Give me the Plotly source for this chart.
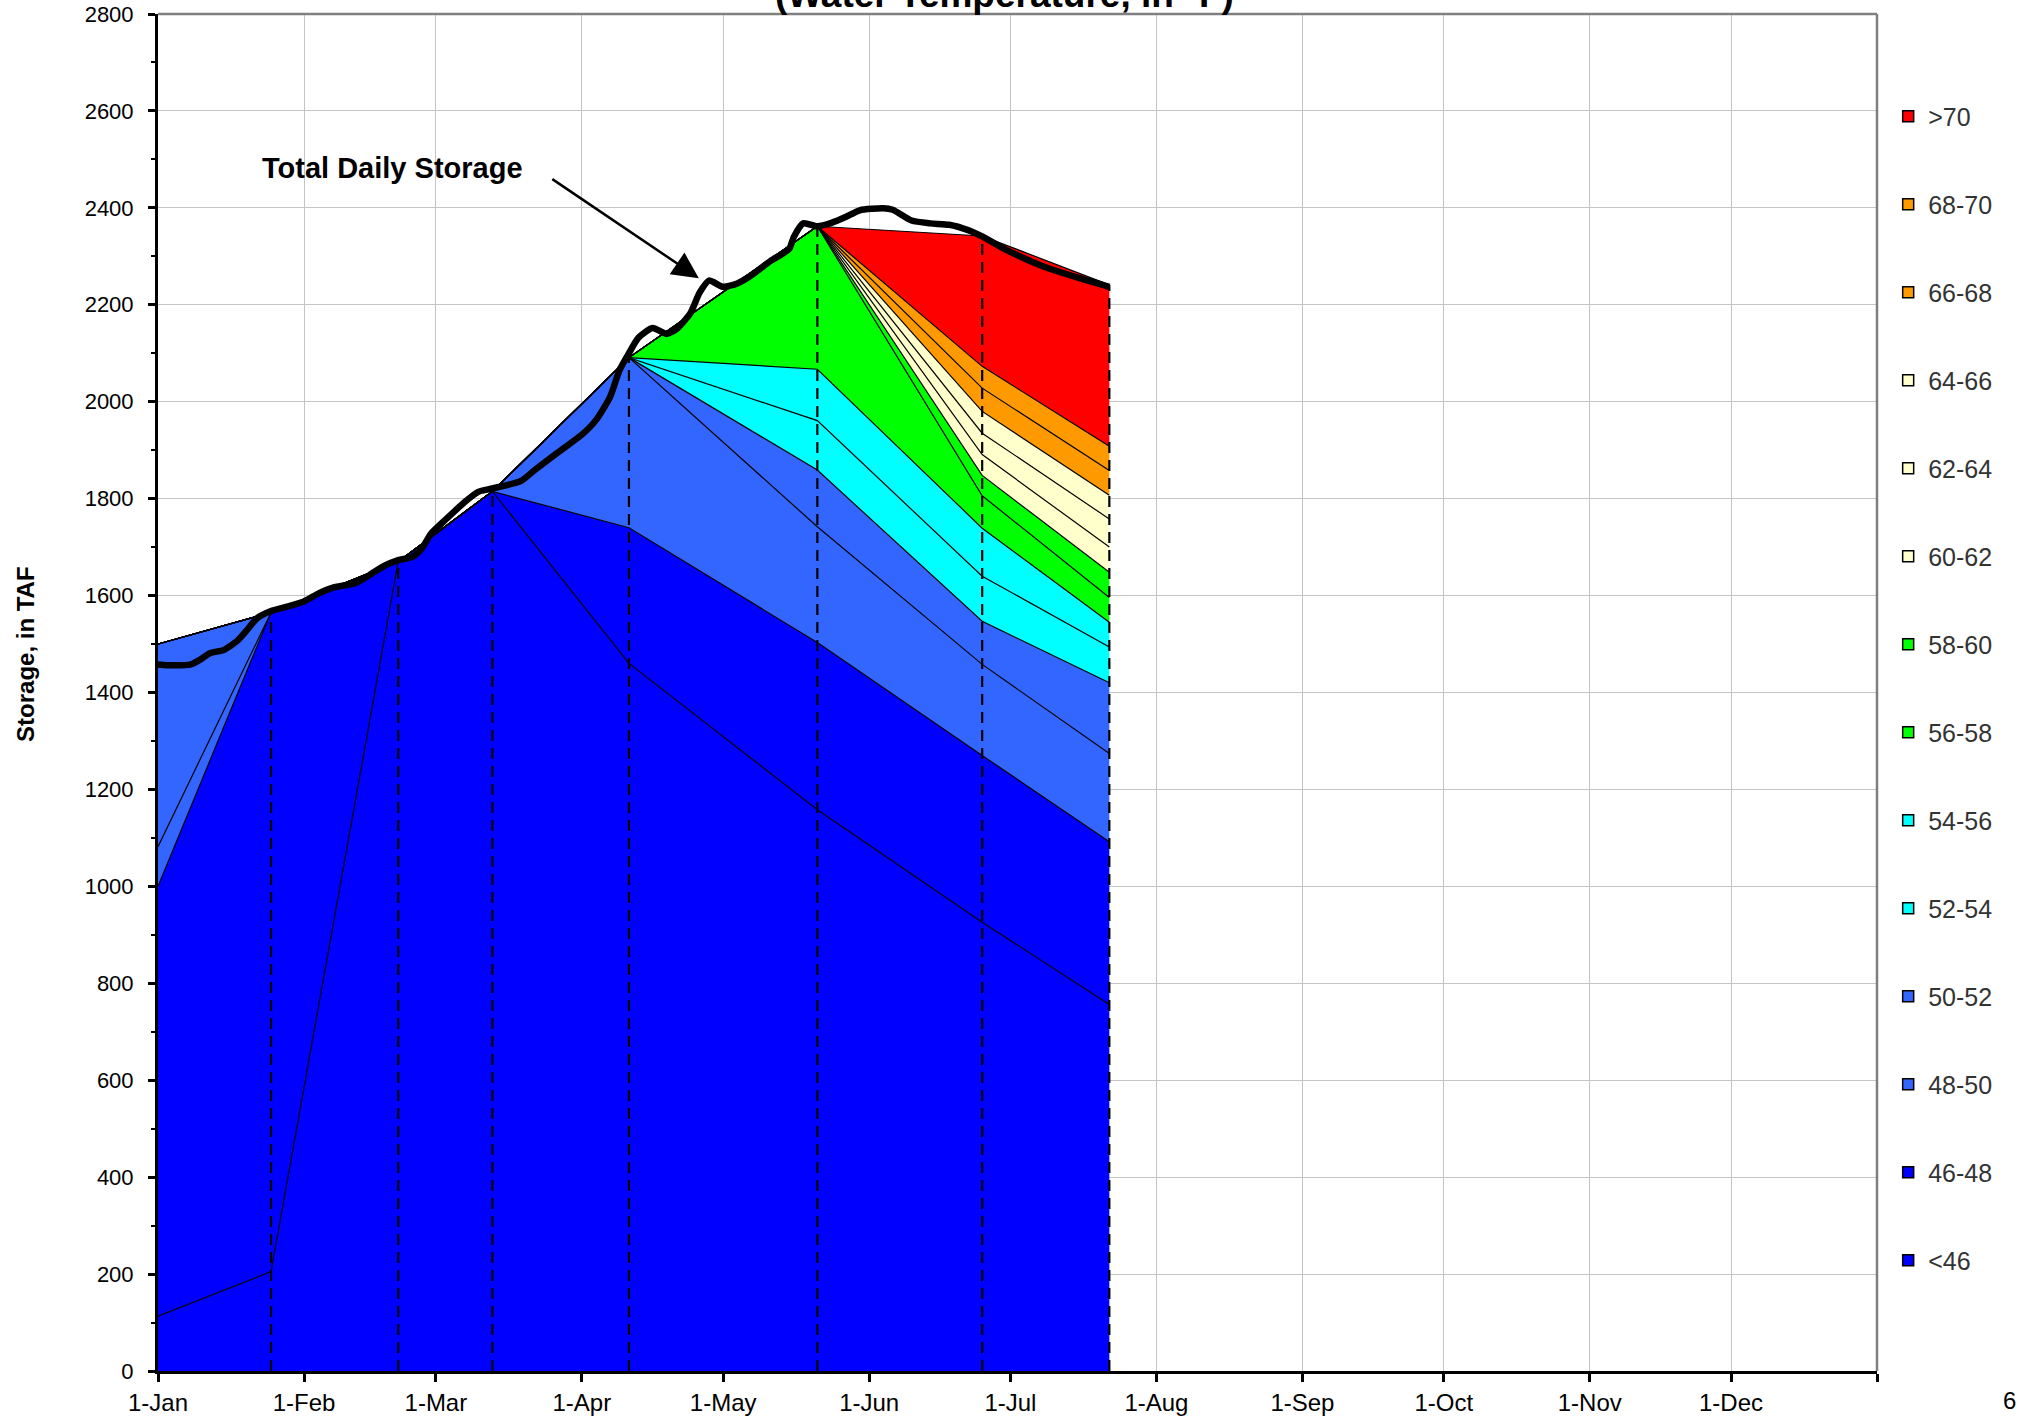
import numpy as np
import plotly.graph_objects as go

# ---------------- data ----------------
PROFILE_DATES = ["2009-01-01", "2009-01-25", "2009-02-21", "2009-03-13",
                 "2009-04-11", "2009-05-21", "2009-06-25", "2009-07-22"]

TEMP_CLASSES = ["<46", "46-48", "48-50", "50-52", "52-54", "54-56", "56-58",
                "58-60", "60-62", "62-64", "64-66", "66-68", "68-70", ">70"]
CLASS_COLORS = ["#0000FF", "#0000FF", "#3366FF", "#3366FF", "#00FFFF", "#00FFFF",
                "#00FF00", "#00FF00", "#FFFFCC", "#FFFFCC", "#FFFFCC", "#FF9900",
                "#FF9900", "#FF0000"]

# storage (TAF) within each temperature class at each profile date
S_LT46  = [113, 205, 1670, 1815, 1460, 1158, 926, 756]
S_46_48 = [887, 1360, 0, 0, 280, 345, 344, 336]
S_48_50 = [82, 0, 0, 0, 351, 239, 188, 182]
S_50_52 = [418, 0, 0, 0, 0, 117, 89, 146]
S_52_54 = [0, 0, 0, 0, 0, 102, 93, 74]
S_54_56 = [0, 0, 0, 0, 0, 106, 99, 51]
S_56_58 = [0, 0, 0, 0, 0, 295, 67, 51]
S_58_60 = [0, 0, 0, 0, 0, 0, 42, 52]
S_60_62 = [0, 0, 0, 0, 0, 0, 43, 52]
S_62_64 = [0, 0, 0, 0, 0, 0, 44, 58]
S_64_66 = [0, 0, 0, 0, 0, 0, 45, 49]
S_66_68 = [0, 0, 0, 0, 0, 0, 48, 51]
S_68_70 = [0, 0, 0, 0, 0, 0, 45, 50]
S_GT70  = [0, 0, 0, 0, 0, 0, 269, 333]

CLASS_STORAGE = [S_LT46, S_46_48, S_48_50, S_50_52, S_52_54, S_54_56, S_56_58,
                 S_58_60, S_60_62, S_62_64, S_64_66, S_66_68, S_68_70, S_GT70]

# total daily storage (TAF)
TOTAL_DATES = ["2009-01-01", "2009-01-04", "2009-01-08", "2009-01-10", "2009-01-12",
               "2009-01-15", "2009-01-18", "2009-01-20", "2009-01-22", "2009-01-25",
               "2009-01-28", "2009-02-01", "2009-02-04", "2009-02-07", "2009-02-12",
               "2009-02-15", "2009-02-18", "2009-02-21", "2009-02-24", "2009-02-26",
               "2009-02-28", "2009-03-03", "2009-03-07", "2009-03-10", "2009-03-13",
               "2009-03-19", "2009-03-22", "2009-03-27", "2009-04-01", "2009-04-04",
               "2009-04-07", "2009-04-09", "2009-04-11", "2009-04-13", "2009-04-16",
               "2009-04-19", "2009-04-21", "2009-04-24", "2009-04-26", "2009-04-28",
               "2009-05-01", "2009-05-04", "2009-05-07", "2009-05-11", "2009-05-15",
               "2009-05-16", "2009-05-18", "2009-05-21", "2009-05-24", "2009-05-27",
               "2009-05-30", "2009-06-04", "2009-06-06", "2009-06-10", "2009-06-14",
               "2009-06-18", "2009-06-22", "2009-06-25", "2009-06-30", "2009-07-08",
               "2009-07-16", "2009-07-22"]
TOTAL_TAF = [1458, 1456, 1458, 1468, 1481,
             1488, 1508, 1530, 1553, 1568,
             1576, 1588, 1604, 1616, 1626,
             1643, 1661, 1673, 1680, 1697,
             1728, 1756, 1792, 1814, 1821,
             1836, 1859, 1896, 1932, 1962,
             2010, 2065, 2100, 2132, 2152,
             2140, 2149, 2182, 2225, 2250,
             2237, 2244, 2261, 2290, 2315,
             2340, 2368, 2362, 2369, 2381,
             2395, 2399, 2396, 2374, 2368,
             2365, 2354, 2341, 2314, 2279,
             2254, 2237]

MONTH_TICKS = ["2009-01-01", "2009-02-01", "2009-03-01", "2009-04-01", "2009-05-01",
               "2009-06-01", "2009-07-01", "2009-08-01", "2009-09-01", "2009-10-01",
               "2009-11-01", "2009-12-01", "2010-01-01"]
MONTH_LABELS = ["1-Jan", "1-Feb", "1-Mar", "1-Apr", "1-May", "1-Jun", "1-Jul",
                "1-Aug", "1-Sep", "1-Oct", "1-Nov", "1-Dec", ""]

FONT = "Liberation Sans, Arial, Helvetica, sans-serif"

fig = go.Figure()

# stacked temperature-class areas
for name, color, vals in zip(TEMP_CLASSES, CLASS_COLORS, CLASS_STORAGE):
    fig.add_trace(go.Scatter(
        x=PROFILE_DATES, y=vals, name=name, stackgroup="temp", mode="lines",
        line=dict(color="black", width=1.2), fillcolor=color,
        showlegend=False, hoverinfo="skip"))

# dashed profile lines (from 0 up to top of the stack)
tops = np.sum(np.array(CLASS_STORAGE), axis=0)
dx, dy = [], []
for d, t in zip(PROFILE_DATES[1:], tops[1:]):
    dx += [d, d, None]
    dy += [0, float(t), None]
fig.add_trace(go.Scatter(x=dx, y=dy, mode="lines", showlegend=False,
                         line=dict(color="black", width=2.2, dash="11px,7px"),
                         hoverinfo="skip"))

# total daily storage
fig.add_trace(go.Scatter(x=TOTAL_DATES, y=TOTAL_TAF, mode="lines", showlegend=False,
                         line=dict(color="black", width=6.5, shape="spline", smoothing=0.6),
                         hoverinfo="skip"))

# legend entries (top to bottom: >70 ... <46)
for name, color in zip(TEMP_CLASSES[::-1], CLASS_COLORS[::-1]):
    fig.add_trace(go.Scatter(
        x=[None], y=[None], mode="markers", name=name, legendgroup=name,
        marker=dict(symbol="square", size=11, color=color,
                    line=dict(color="black", width=1.5))))

fig.update_layout(
    width=2019, height=1417,
    margin=dict(l=158, r=142, t=14, b=46, pad=0),
    paper_bgcolor="white", plot_bgcolor="white",
    font=dict(family=FONT, size=22, color="black"),
    showlegend=True,
    legend=dict(x=1.0065, xanchor="left", y=0.9415, yanchor="top",
                traceorder="grouped", tracegroupgap=52.5,
                font=dict(family=FONT, size=25, color="#333333"),
                bgcolor="rgba(0,0,0,0)", borderwidth=0),
    xaxis=dict(type="date", range=["2009-01-01", "2010-01-01"],
               tickmode="array", tickvals=MONTH_TICKS, ticktext=MONTH_LABELS,
               ticks="outside", ticklen=8, tickwidth=2.5, tickcolor="black",
               ticklabelstandoff=0,
               showline=True, linecolor="black", linewidth=3,
               showgrid=True, gridcolor="#C4C4C4", gridwidth=1.4,
               zeroline=False, automargin=False,
               tickfont=dict(family=FONT, size=24, color="black")),
    yaxis=dict(range=[0, 2800], tickmode="linear", tick0=0, dtick=200,
               ticks="outside", ticklen=7, tickwidth=2.5, tickcolor="black",
               minor=dict(dtick=100, ticks="outside", ticklen=4, tickwidth=2,
                          tickcolor="black", showgrid=False),
               showline=True, linecolor="black", linewidth=3,
               showgrid=True, gridcolor="#C4C4C4", gridwidth=1.4,
               zeroline=False, automargin=False, ticklabelstandoff=10,
               tickfont=dict(family=FONT, size=22, color="black")),
    yaxis2=dict(overlaying="y", side="left", range=[0, 2800], tickmode="linear",
                tick0=0, dtick=200, ticks="inside", ticklen=7, tickwidth=2.5,
                tickcolor="black", showticklabels=False, showgrid=False,
                showline=False, zeroline=False, automargin=False),
    shapes=[
        dict(type="line", xref="paper", yref="paper", x0=0, x1=1, y0=1, y1=1,
             line=dict(color="#7F7F7F", width=2.5), layer="above"),
        dict(type="line", xref="paper", yref="paper", x0=1, x1=1, y0=0, y1=1,
             line=dict(color="#7F7F7F", width=2.5), layer="above"),
    ],
    annotations=[
        dict(text="<b>(Water Temperature, in °F)</b>", xref="paper", yref="paper",
             x=0.4927, y=0.998, xanchor="center", yanchor="bottom", showarrow=False,
             font=dict(family=FONT, size=37, color="black")),
        dict(text="<b>Storage, in TAF</b>", xref="paper", yref="paper",
             x=-0.0768, y=0.5284, xanchor="center", yanchor="middle",
             textangle=-90, showarrow=False,
             font=dict(family=FONT, size=24, color="black")),
        dict(text="<b>Total Daily Storage</b>", xref="paper", yref="paper",
             x=0.1367, y=0.8865, xanchor="center", yanchor="middle",
             showarrow=False, font=dict(family=FONT, size=29, color="black")),
        dict(text="", x="2009-04-25 20:00", y=2255, xref="x", yref="y",
             showarrow=True, arrowhead=2, arrowsize=2.1, arrowwidth=2.5,
             arrowcolor="black", ax=-148, ay=-100, standoff=0),
        dict(text="6", xref="paper", yref="paper", x=1.0768, y=-0.0214,
             xanchor="center", yanchor="middle", showarrow=False,
             font=dict(family=FONT, size=24, color="black")),
    ],
)

fig.write_html("out.html", config={"displayModeBar": False},
               post_script="document.body.style.margin='0';document.body.style.overflow='hidden';")
